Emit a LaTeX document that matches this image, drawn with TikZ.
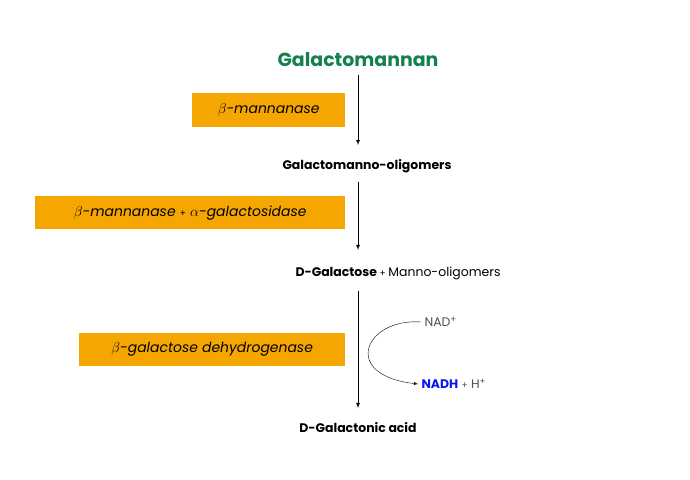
\documentclass[tikz,border=0pt]{standalone}
\usepackage{fontspec}
\setmainfont{Poppins}
\usetikzlibrary{positioning}
\definecolor{galgreen}{RGB}{20,128,78}
\definecolor{enzorange}{RGB}{245,166,0}
\definecolor{nadblue}{RGB}{10,20,240}
\definecolor{cofgray}{RGB}{80,80,80}
\tikzset{
	enzyme/.style={fill=enzorange, inner sep=0pt, anchor=north west, font=\fontsize{14}{16}\selectfont\itshape},
	product/.style={font=\fontsize{12.5}{14}\selectfont\bfseries},
	reaction/.style={-latex, thick}
}
\begin{document}
\begin{tikzpicture}[x=1bp,y=-1bp]
	\useasboundingbox (0,0) rectangle (690,480);
	\node[font=\fontsize{19}{22}\selectfont\bfseries, text=galgreen] (gm) at (358,60) {Galactomannan};
	\node[product] (gmo) at (367,166) {Galactomanno-oligomers};
	\node[product, anchor=west] (dgal) at (292,273) {D-Galactose {\mdseries\fontsize{9}{10}\selectfont +} {\mdseries Manno-oligomers}};
	\node[product] (acid) at (358,428) {D-Galactonic acid};
	% enzymes
	\node[enzyme, minimum width=153bp, minimum height=34bp] (e1) at (192,93) {$\beta$-mannanase};
	\node[enzyme, minimum width=310bp, minimum height=33bp] (e2) at (35,196) {$\beta$-mannanase {\upshape\fontsize{9}{10}\selectfont +} $\alpha$-galactosidase};
	\node[enzyme, minimum width=266bp, minimum height=33bp] (e3) at (79,333) {$\beta$-galactose dehydrogenase};
	% cofactors
	\node[text=cofgray, font=\fontsize{12.5}{14}\selectfont, anchor=west] (nad) at (421,322) {NAD\textsuperscript{+}};
	\node[font=\fontsize{12.5}{14}\selectfont, anchor=west] (nadh) at (418,384) {\textcolor{nadblue}{\bfseries NADH} \textcolor{cofgray}{{\fontsize{9}{10}\selectfont +} H\textsuperscript{+}}};
	\coordinate (s1) at (358,75);
	\coordinate (t1) at (358,145);
	\coordinate (s2) at (358,182);
	\coordinate (t2) at (358,250);
	\coordinate (s3) at (358,291);
	\coordinate (t3) at (358,408);
	\draw[reaction] (s1) -- (t1);
	\draw[reaction] (s2) -- (t2);
	\draw[reaction] (s3) -- (t3);
	\draw[-latex] (nad.west) .. controls (365,318) and (340,375) .. (nadh.west);
\end{tikzpicture}
\end{document}
